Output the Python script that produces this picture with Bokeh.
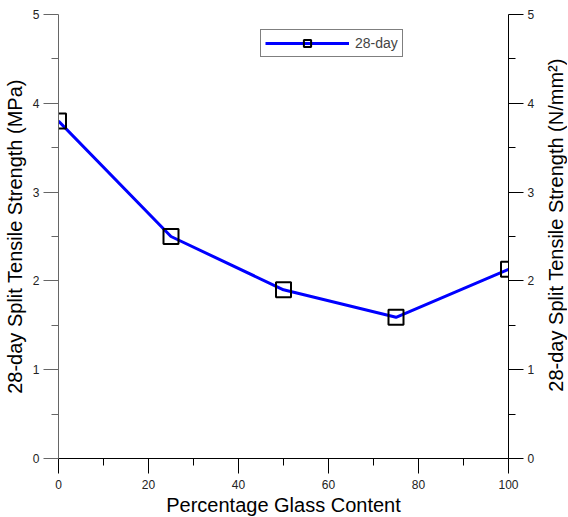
from bokeh.plotting import figure
from bokeh.layouts import row
from bokeh.models import LinearAxis, Range1d, Legend, LegendItem, FixedTicker, Label
from bokeh.embed import file_html
from bokeh.resources import INLINE

glass_pct = [0, 25, 50, 75, 100]
strength_28day = [3.8, 2.5, 1.9, 1.59, 2.13]
x_ticks = [0, 20, 40, 60, 80, 100]
y_ticks = [0, 1, 2, 3, 4, 5]

FONT = "Liberation Sans"

p = figure(frame_width=450, frame_height=444, output_backend="svg", toolbar_location=None,
           x_range=Range1d(0, 100), y_range=Range1d(0, 5),
           min_border_left=53, min_border_right=26, min_border_top=14, min_border_bottom=40)
p.outline_line_color = None
p.xgrid.visible = False
p.ygrid.visible = False
p.background_fill_color = "white"
p.border_fill_color = "white"

p.extra_y_ranges = {"right": Range1d(0, 5)}

line_r = p.line(glass_pct, strength_28day, line_color="#0000FF", line_width=3)
sq_r = p.scatter(glass_pct, strength_28day, marker="square", size=15,
                 fill_alpha=0, line_color="black", line_width=2)

def style_axis(ax):
    ax.major_label_text_font = FONT
    ax.major_label_text_font_size = "12px"
    ax.major_label_text_color = "#222222"
    ax.axis_label_text_font = FONT
    ax.axis_label_text_font_size = "20px"
    ax.axis_label_text_font_style = "normal"
    ax.axis_label_text_color = "black"
    ax.major_tick_in = 0
    ax.major_tick_out = 15
    ax.minor_tick_in = 0
    ax.minor_tick_out = 7

xa = p.xaxis[0]
xa.ticker = FixedTicker(ticks=x_ticks, minor_ticks=[10, 30, 50, 70, 90])
xa.axis_label = "Percentage Glass Content"
style_axis(xa)
xa.axis_line_color = "black"
xa.major_label_standoff = 6
xa.axis_label_standoff = 2

ya = p.yaxis[0]
ya.ticker = FixedTicker(ticks=y_ticks, minor_ticks=[0.5, 1.5, 2.5, 3.5, 4.5])
ya.axis_label = "28-day Split Tensile Strength (MPa)"
style_axis(ya)
ya.axis_line_color = "#666666"
ya.major_tick_line_color = "#666666"
ya.minor_tick_line_color = "#666666"
ya.major_label_standoff = 4
ya.axis_label_standoff = 4

ra = LinearAxis(y_range_name="right")
ra.ticker = FixedTicker(ticks=y_ticks, minor_ticks=[0.5, 1.5, 2.5, 3.5, 4.5])
style_axis(ra)
ra.axis_line_color = "black"
ra.major_label_standoff = 4
p.add_layout(ra, "right")

legend = Legend(items=[LegendItem(label="28-day", renderers=[line_r, sq_r])],
                location=(202, 401), orientation="vertical")
legend.border_line_color = "black"
legend.border_line_width = 1
legend.glyph_width = 84
legend.glyph_height = 18
legend.label_text_font = FONT
legend.label_text_font_size = "14px"
legend.padding = 4
legend.spacing = 0
legend.margin = 0
legend.label_standoff = 6
p.add_layout(legend, "center")

# narrow side panel carrying the right-hand axis title (reads bottom to top)
side = figure(width=30, height=500, output_backend="svg", toolbar_location=None,
              x_range=Range1d(0, 1), y_range=Range1d(0, 1), min_border=0)
side.axis.visible = False
side.grid.visible = False
side.outline_line_color = None
side.add_layout(Label(x=0.6, y=0.506, text="28-day Split Tensile Strength (N/mm²)",
                      angle=90, angle_units="deg", text_align="center", text_baseline="middle",
                      text_font=FONT, text_font_size="20px", text_color="black"))

layout = row(p, side, spacing=0)
open("out.html", "w").write(file_html(layout, INLINE))
